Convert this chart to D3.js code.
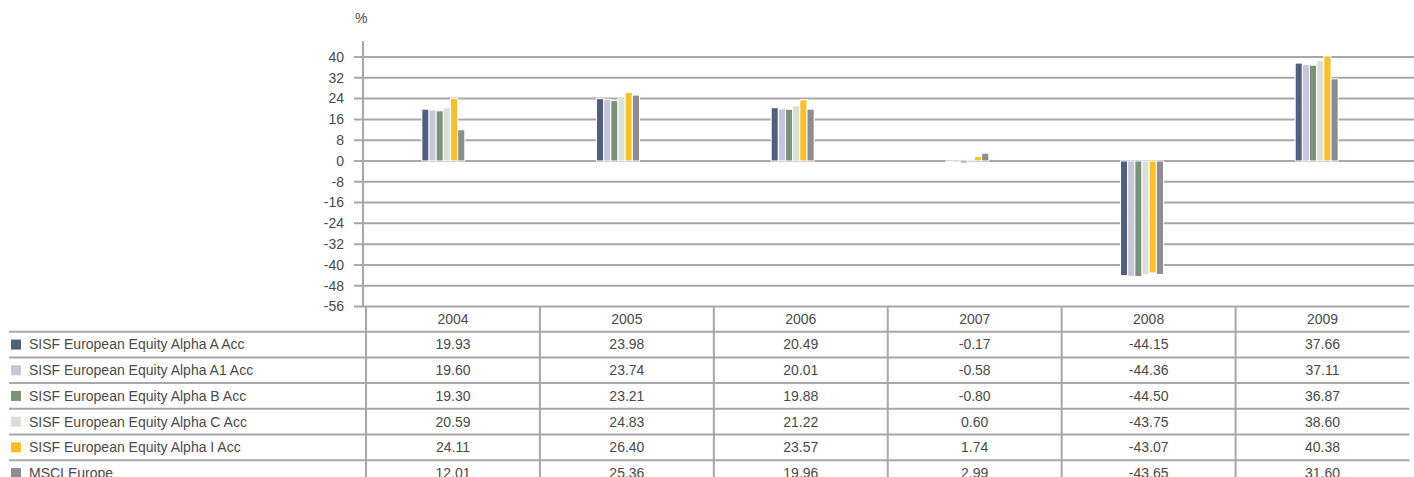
<!DOCTYPE html>
<html>
<head>
<meta charset="utf-8">
<script src="https://cdn.jsdelivr.net/npm/d3@7"></script>
<style>
  body { margin: 0; background: #fff; }
  text { font-family: "Liberation Sans", Arial, sans-serif; font-size: 14px; fill: #4a4a4a; }
</style>
</head>
<body>
<div id="chart"></div>
<script>
// data
const years = ['2004', '2005', '2006', '2007', '2008', '2009']
const seriesNames = [
  'SISF European Equity Alpha A Acc',
  'SISF European Equity Alpha A1 Acc',
  'SISF European Equity Alpha B Acc',
  'SISF European Equity Alpha C Acc',
  'SISF European Equity Alpha I Acc',
  'MSCI Europe'
]
const alphaA = [19.93, 23.98, 20.49, -0.17, -44.15, 37.66]
const alphaA1 = [19.60, 23.74, 20.01, -0.58, -44.36, 37.11]
const alphaB = [19.30, 23.21, 19.88, -0.80, -44.50, 36.87]
const alphaC = [20.59, 24.83, 21.22, 0.60, -43.75, 38.60]
const alphaI = [24.11, 26.40, 23.57, 1.74, -43.07, 40.38]
const msci = [12.01, 25.36, 19.96, 2.99, -43.65, 31.60]
const yTicks = [40, 32, 24, 16, 8, 0, -8, -16, -24, -32, -40, -48, -56]

const colors = ['#515f7e', '#c4c6d9', '#7a917a', '#d9e0d6', '#fcc022', '#8c8d91']
const values = [alphaA, alphaA1, alphaB, alphaC, alphaI, msci]

const width = 1414,
height = 477,
gridColor = '#a8a8ac'

let svg = d3.select('#chart')
  .append('svg')
  .attr('width', width)
  .attr('height', height)

const y = d3.scaleLinear()
  .domain([-56, 40])
  .range([306.5, 57])

// bar groups
const x0 = d3.scaleBand()
  .domain(years)
  .range([356, 1404])
  .paddingInner(0.754)
  .paddingOuter(0.377)

const x1 = d3.scaleBand()
  .domain(d3.range(seriesNames.length))
  .range([0, x0.bandwidth()])

// table columns
const xTable = d3.scaleBand()
  .domain(years)
  .range([366, 1409.5])

const rows = ['header'].concat(seriesNames)
const yRow = d3.scaleBand()
  .domain(rows)
  .range([306, 306 + rows.length * 25.7])

// gridlines
svg.append('g')
  .selectAll('line')
  .data(yTicks)
  .enter()
  .append('line')
  .attr('x1', 354)
  .attr('x2', d => d === -56 ? 1409.5 : width)
  .attr('y1', d => y(d))
  .attr('y2', d => y(d))
  .attr('stroke', gridColor)
  .attr('stroke-width', 2)

// y axis
svg.append('line')
  .attr('x1', 363).attr('x2', 363)
  .attr('y1', 41).attr('y2', y(-56))
  .attr('stroke', gridColor)
  .attr('stroke-width', 2)

svg.append('g')
  .selectAll('text')
  .data(yTicks)
  .enter()
  .append('text')
  .attr('x', 344)
  .attr('y', d => y(d))
  .attr('dy', '0.35em')
  .attr('text-anchor', 'end')
  .text(d => d)

svg.append('text')
  .attr('x', 355)
  .attr('y', 23)
  .text('%')

// bars
let groups = svg.append('g')
  .selectAll('g')
  .data(years)
  .enter()
  .append('g')
  .attr('transform', d => 'translate(' + x0(d) + ',0)')

groups.selectAll('rect')
  .data((d, i) => values.map((s, k) => ({ k: k, v: s[i] })))
  .enter()
  .append('rect')
  .attr('x', d => x1(d.k))
  .attr('width', x1.bandwidth())
  .attr('y', d => y(Math.max(0, d.v)))
  .attr('height', d => Math.abs(y(d.v) - y(0)))
  .attr('fill', d => colors[d.k])
  .attr('stroke', '#fff')
  .attr('stroke-width', 1)

// table
let table = svg.append('g')

table.selectAll('line.h')
  .data(rows)
  .enter()
  .append('line')
  .attr('x1', 9)
  .attr('x2', 1409.5)
  .attr('y1', d => yRow(d) + yRow.bandwidth())
  .attr('y2', d => yRow(d) + yRow.bandwidth())
  .attr('stroke', gridColor)
  .attr('stroke-width', 2)

table.selectAll('line.v')
  .data(years)
  .enter()
  .append('line')
  .attr('x1', d => xTable(d))
  .attr('x2', d => xTable(d))
  .attr('y1', 306)
  .attr('y2', height)
  .attr('stroke', gridColor)
  .attr('stroke-width', 2)

table.selectAll('text.year')
  .data(years)
  .enter()
  .append('text')
  .attr('x', d => xTable(d) + xTable.bandwidth() / 2)
  .attr('y', yRow('header') + yRow.bandwidth() / 2)
  .attr('dy', '0.35em')
  .attr('text-anchor', 'middle')
  .text(d => d)

seriesNames.forEach((name, k) => {
  const cy = yRow(name) + yRow.bandwidth() / 2
  table.append('rect')
    .attr('x', 11)
    .attr('y', cy - 5)
    .attr('width', 10)
    .attr('height', 10)
    .attr('fill', colors[k])
  table.append('text')
    .attr('x', 29)
    .attr('y', cy)
    .attr('dy', '0.35em')
    .text(name)
  table.append('g')
    .selectAll('text')
    .data(values[k])
    .enter()
    .append('text')
    .attr('x', (d, i) => xTable(years[i]) + xTable.bandwidth() / 2)
    .attr('y', cy)
    .attr('dy', '0.35em')
    .attr('text-anchor', 'middle')
    .text(d => d.toFixed(2))
})
</script>
</body>
</html>
